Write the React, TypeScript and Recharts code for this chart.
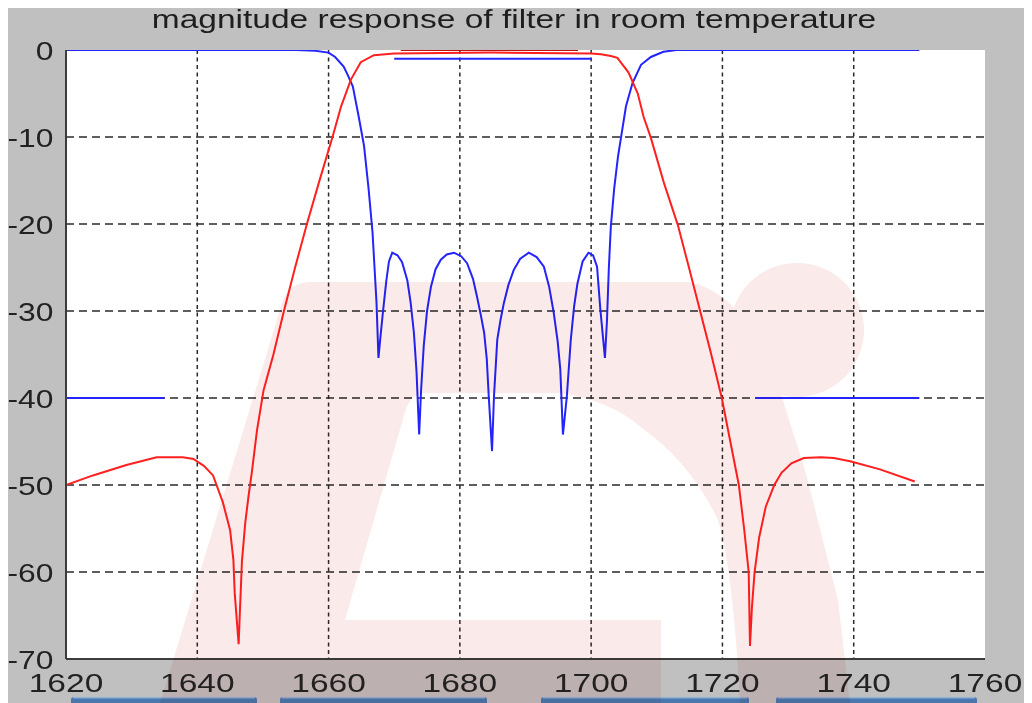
import { LineChart, Line, XAxis, YAxis, CartesianGrid } from "recharts";

// reflection (S11) curve, MHz / dB
const blueFreq = [
  1620, 1655, 1658, 1660, 1661, 1662.3, 1663, 1663.7, 1664.6, 1665.4, 1666.1, 1666.7, 1667, 1667.3, 1667.6,
  1667.9, 1668.3, 1668.8, 1669.2, 1669.7, 1670.5, 1671.2, 1672, 1672.5, 1673, 1673.4, 1673.8,
  1674.1, 1674.5, 1675, 1675.6, 1676.3, 1677.1, 1678, 1679.1, 1680.2, 1681.1, 1682, 1682.6, 1683.2,
  1683.7, 1684.1, 1684.4, 1684.9, 1685.2, 1685.7, 1686.2, 1686.7, 1687.4, 1688.2, 1689.2, 1690.5,
  1691.7, 1692.8, 1693.6, 1694.3, 1694.9, 1695.3, 1695.7, 1696.3, 1696.9, 1697.4, 1697.9, 1698.7,
  1699.6, 1700.3, 1700.9, 1701.4, 1701.8, 1702.1, 1702.4, 1702.7, 1703, 1703.5, 1704.1, 1704.5,
  1705.3, 1706.3, 1707.6, 1709.1, 1711, 1713, 1750,
];
const blueDb = [
  0, 0, -0.1, -0.3, -0.8, -1.9, -3, -4.2, -7.7, -11, -16, -21, -25, -29, -35.4,
  -33, -30, -26.5, -24.3, -23.3, -23.6, -24.4, -26.5, -29, -32.5, -37, -44.2,
  -39, -34, -30, -27.2, -25.2, -24.1, -23.5, -23.3, -23.7, -24.5, -26.3, -28.3, -30.5,
  -32.5, -35.5, -39.8, -46.1, -39.8, -33.3, -31, -29.1, -27, -25.3, -24, -23.3,
  -23.8, -24.9, -27.2, -30.2, -33.5, -36.7, -44.2, -39.8, -33.3, -29.5, -26.9, -24.3,
  -23.3, -23.6, -24.9, -29.8, -33, -35.4, -31.3, -25, -20.3, -16, -12.2, -10.3,
  -6.5, -3.8, -1.7, -0.8, -0.2, 0, 0,
];

// transmission (S21) curve
const redFreq = [
  1620, 1624.1, 1629.2, 1633.8, 1637.8, 1639.4, 1641, 1642.4, 1643.9, 1645, 1645.5, 1645.7, 1646.3,
  1646.5, 1646.8, 1647.3, 1647.8, 1648.3, 1649.1, 1650.1, 1651.6, 1653.2, 1654.9, 1656.7, 1658.5,
  1660.6, 1661.9, 1663.4, 1664.9, 1666.9, 1670, 1685, 1700, 1701.5, 1703, 1704, 1705.7, 1707.1,
  1708, 1709.1, 1711.1, 1713.2, 1714.9, 1716.6, 1718.3, 1719.9, 1721.2, 1722.5, 1723.3, 1724,
  1724.2, 1724.5, 1724.9, 1725.6, 1726.6, 1727.9, 1729, 1730.5, 1732.4, 1735, 1737, 1739.6, 1744,
  1749.3,
];
const redDb = [
  -50, -48.9, -47.7, -46.8, -46.8, -47, -47.8, -48.9, -52, -55.2, -58.6, -62.4, -68.3,
  -64.4, -58.8, -54.4, -51.3, -48.6, -43.7, -39.1, -35, -30, -25, -20, -15.3,
  -10, -6.5, -3.4, -1.4, -0.6, -0.4, -0.3, -0.4, -0.5, -0.7, -0.9, -2.6, -5,
  -7.7, -10.1, -15.3, -20.1, -25, -30, -35, -40, -45, -50, -55, -60,
  -68.5, -64, -60, -56, -52.5, -50, -48.6, -47.5, -46.9, -46.8, -46.9, -47.3, -48.2,
  -49.6,
];

// spec masks
const blueMaskLeft = [
  [1620, -40],
  [1635, -40],
];
const blueMaskRight = [
  [1725, -40],
  [1750, -40],
];
const blueMaskPass = [
  [1670, -1],
  [1700, -1],
];
const redMaskPass = [
  [1671, 0],
  [1698, 0],
];

const xTicks = [1620, 1640, 1660, 1680, 1700, 1720, 1740, 1760];
const yTicks = [-70, -60, -50, -40, -30, -20, -10, 0];
const xGrid = [1640, 1660, 1680, 1700, 1720, 1740];
const yGrid = [-60, -50, -40, -30, -20, -10];

const title = "magnitude response of filter in room temperature";

const toPoints = (xs: number[], ys: number[]) => xs.map((x, i) => ({ x, y: ys[i] }));
const pairs = (p: number[][]) => p.map(([x, y]) => ({ x, y }));

const FONT = "'Liberation Sans', Arial, sans-serif";
const STRETCH = 1.265;

function XTick(props: any) {
  const { x, y, payload } = props;
  return (
    <text
      transform={`translate(${x},${y + 33}) scale(${STRETCH},1)`}
      textAnchor="middle"
      fontFamily={FONT}
      fontSize={26.5}
      fill="#222"
    >
      {payload.value}
    </text>
  );
}

function YTick(props: any) {
  const { x, y, payload } = props;
  return (
    <text
      transform={`translate(${x - 12.5},${y + 9.5}) scale(1.2,1)`}
      textAnchor="end"
      fontFamily={FONT}
      fontSize={26.5}
      fill="#222"
    >
      {payload.value}
    </text>
  );
}

const BLUE = "#2424ff";
const RED = "#ff2020";

export default function App() {
  return (
    <div style={{ position: "relative", width: 1024, height: 695, background: "#c0c0c0" }}>
      <LineChart width={1024} height={695} margin={{ top: 42, right: 47, bottom: 0, left: 0 }}>
        <CartesianGrid
          vertical={false}
          horizontalValues={yGrid}
          stroke="#2a2a2a"
          strokeWidth={1.5}
          strokeDasharray="8 5"
          fill="#ffffff"
        />
        <CartesianGrid
          horizontal={false}
          verticalValues={xGrid}
          stroke="#2a2a2a"
          strokeWidth={1.5}
          strokeDasharray="4 3.5"
        />
        <XAxis
          dataKey="x"
          type="number"
          domain={[1620, 1760]}
          ticks={xTicks}
          interval={0}
          height={44}
          tickSize={0}
          tickMargin={0}
          tickLine={false}
          tick={<XTick />}
          axisLine={{ stroke: "#3c3c3c", strokeWidth: 2 }}
          allowDataOverflow
        />
        <XAxis
          xAxisId="top"
          orientation="top"
          type="number"
          domain={[1620, 1760]}
          height={0}
          tick={false}
          tickLine={false}
          axisLine={{ stroke: "#7c7c7c", strokeWidth: 1, transform: "translate(0,-1.5)" }}
        />
        <YAxis
          type="number"
          domain={[-70, 0]}
          ticks={yTicks}
          interval={0}
          width={58}
          tickSize={0}
          tickMargin={0}
          tickLine={false}
          tick={<YTick />}
          axisLine={{ stroke: "#3c3c3c", strokeWidth: 2 }}
          allowDataOverflow
        />
        <YAxis
          yAxisId="right"
          orientation="right"
          type="number"
          domain={[-70, 0]}
          width={0}
          tick={false}
          tickLine={false}
          axisLine={{ stroke: "#3c3c3c", strokeWidth: 2 }}
        />
        <Line
          data={toPoints(blueFreq, blueDb)}
          dataKey="y"
          type="linear"
          stroke={BLUE}
          strokeWidth={2}
          dot={false}
          isAnimationActive={false}
        />
        <Line
          data={toPoints(redFreq, redDb)}
          dataKey="y"
          type="linear"
          stroke={RED}
          strokeWidth={2}
          dot={false}
          isAnimationActive={false}
        />
        <Line data={pairs(blueMaskLeft)} dataKey="y" stroke={BLUE} strokeWidth={2} dot={false} isAnimationActive={false} />
        <Line data={pairs(blueMaskRight)} dataKey="y" stroke={BLUE} strokeWidth={2} dot={false} isAnimationActive={false} />
        <Line data={pairs(blueMaskPass)} dataKey="y" stroke={BLUE} strokeWidth={2} dot={false} isAnimationActive={false} />
        <Line data={pairs(redMaskPass)} dataKey="y" stroke="#c01010" strokeWidth={2} dot={false} isAnimationActive={false} />
      </LineChart>

      {/* title + the cut-off buttons under the axes */}
      <svg
        width={1032}
        height={703}
        style={{ position: "absolute", left: -8, top: -8, pointerEvents: "none" }}
      >
        <text
          transform={`translate(514,28) scale(${STRETCH},1)`}
          textAnchor="middle"
          fontFamily={FONT}
          fontSize={26.5}
          fill="#1e1e1e"
        >
          {title}
        </text>
        {[
          [71, 257],
          [280, 487],
          [541, 749],
          [776, 977],
        ].map(([a, b]) => (
          <g key={a}>
            <rect x={a} y={697} width={b - a} height={12} rx={3} fill="#4a78ae" />
            <rect x={a + 2} y={697} width={b - a - 4} height={1.5} fill="#8fb0d6" />
          </g>
        ))}
      </svg>

      {/* faint logo watermark */}
      <svg
        width={1032}
        height={703}
        style={{ position: "absolute", left: -8, top: -8, pointerEvents: "none", mixBlendMode: "multiply" }}
      >
        <path
          fillRule="evenodd"
          fill="#fbeaea"
          d="M160,703 L283,300 Q290,282 312,282 L690,282 Q745,294 778,385 L805,470 L838,600 L850,703 Z
             M425,393 L560,393 Q610,400 642,428 Q690,462 718,520 Q733,570 740,703 L661,703 L661,620 L345,620 L405,412 Q410,394 425,393 Z"
        />
        <circle cx={797} cy={330} r={67} fill="#fbeaea" />
      </svg>
    </div>
  );
}
